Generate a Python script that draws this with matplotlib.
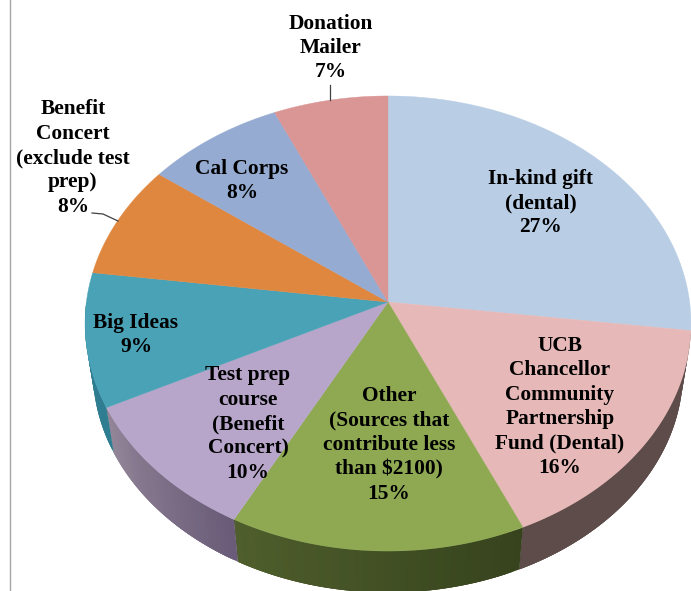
import numpy as np
import matplotlib
matplotlib.use("Agg")
import matplotlib.pyplot as plt
from matplotlib.colors import to_rgb
from matplotlib.patches import Polygon

values = [27.0, 16.3, 14.45, 9.85, 9.5, 8.1, 8.1, 6.7]
labels = ["In-kind gift\n(dental)\n27%",
          "UCB\nChancellor\nCommunity\nPartnership\nFund (Dental)\n16%",
          "Other\n(Sources that\ncontribute less\nthan $2100)\n15%",
          "Test prep\ncourse\n(Benefit\nConcert)\n10%",
          "Big Ideas\n9%",
          "Benefit\nConcert\n(exclude test\nprep)\n8%",
          "Cal Corps\n8%",
          "Donation\nMailer\n7%"]
top_colors = ["#B9CDE5", "#E6B9B8", "#8EA952", "#B7A6CA", "#4AA2B7", "#E0873F", "#95ABD1", "#DA9595"]
side_start = [None, "#5E4C4B", "#36431D", "#6A5C78", "#2F7D90", None, None, None]
side_end = [None, "#5E4C4B", "#4F5E2C", "#938699", "#2F7D90", None, None, None]
label_xy = [(541, 203), (560, 407), (389, 445), (248, 424), (136, 335), (73, 158), (242, 181), (331, 48)]

CX, CY, B, A, K = 388.0, 302.0, 301.6, 225.5, 0.0945
SCALE, DROP = 0.974, 48.0


def project(theta, bottom=False):
    u, v = np.sin(theta), np.cos(theta)
    w = 1 + K * v
    x, y = B * u / w, -A * v / w
    if bottom:
        return CX + SCALE * x, CY + DROP + SCALE * y
    return CX + x, CY + y


fig = plt.figure(figsize=(6.91, 5.91), dpi=100)
ax = fig.add_axes([0, 0, 1, 1])
ax.set_xlim(0, 691)
ax.set_ylim(591, 0)
ax.axis("off")

edges = np.cumsum([0] + values) / sum(values) * 2 * np.pi

# side wall first, so the top face covers it
for i in range(len(values)):
    if side_start[i] is None:
        continue
    lo, hi = edges[i], min(edges[i + 1], 1.5 * np.pi)
    segs = np.linspace(lo, hi, 41)
    c0, c1 = np.array(to_rgb(side_start[i])), np.array(to_rgb(side_end[i]))
    for j in range(40):
        th = np.linspace(segs[j], hi if j == 39 else segs[min(j + 3, 40)], 6)
        xt, yt = project(th)
        xb, yb = project(th, True)
        col = c0 + (c1 - c0) * (j / 39)
        pts = np.column_stack([np.r_[xt, xb[::-1]], np.r_[yt, yb[::-1]]])
        ax.add_patch(Polygon(pts, closed=True, fc=col, ec="none", lw=0, zorder=1))

# top face
for i in range(len(values)):
    th = np.linspace(edges[i], edges[i + 1], 120)
    xs, ys = project(th)
    pts = np.column_stack([np.r_[CX, xs], np.r_[CY, ys]])
    ax.add_patch(Polygon(pts, closed=True, fc=top_colors[i], ec=top_colors[i], lw=0.3, zorder=3))

# leader lines
ax.plot([330, 330], [85, 100], color="#404040", lw=0.9, zorder=4)
ax.plot([92, 103, 118], [213, 214, 221], color="#404040", lw=0.9, zorder=4)

# left rule of the page
ax.plot([9.7, 9.7], [0, 591], color="#A6A6A6", lw=1.0, zorder=0)

for text, (x, y) in zip(labels, label_xy):
    ax.text(x, y, text, ha="center", va="center", family="Liberation Serif",
            weight="bold", fontsize=15.4, linespacing=1.29, color="black", zorder=5)

fig.savefig("out.png", dpi=100)
